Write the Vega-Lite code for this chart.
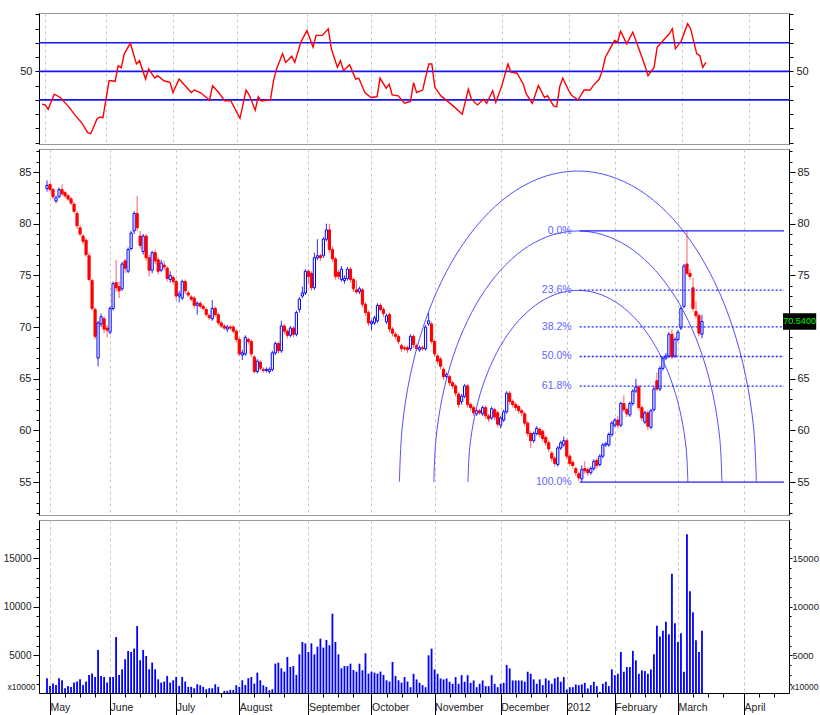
{
  "$schema": "https://vega.github.io/schema/vega-lite/v6.json",
  "padding": {"left": 2, "top": 12, "right": 0, "bottom": 0},
  "background": "white",
  "spacing": 5,
  "bounds": "flush",
  "config": {
    "font": "Liberation Sans, Arial, sans-serif",
    "axis": {"labelFont": "Liberation Sans, Arial, sans-serif", "titleFont": "Liberation Sans, Arial, sans-serif", "labelFontSize": 11, "labelColor": "#222", "domainColor": "#000", "tickColor": "#000", "labelPadding": 2},
    "view": {"stroke": "#9a9a9a"}
  },
  "datasets": {
    "candles": [
      {"i":-1,"o":83.4,"h":84.2,"l":83.1,"c":83.7},{"i":0,"o":83.8,"h":84.0,"l":83.1,"c":83.3},{"i":1,"o":83.3,"h":83.5,"l":82.4,"c":82.6},{"i":2,"o":82.2,"h":82.7,"l":82.0,"c":82.5},{"i":3,"o":82.6,"h":83.5,"l":82.5,"c":83.3},{"i":4,"o":83.3,"h":83.8,"l":82.7,"c":82.9},{"i":5,"o":83.0,"h":83.2,"l":82.5,"c":82.7},{"i":6,"o":82.7,"h":82.9,"l":82.2,"c":82.4},{"i":7,"o":82.4,"h":82.6,"l":81.8,"c":82.0},{"i":8,"o":81.9,"h":82.1,"l":81.0,"c":81.2},
      {"i":9,"o":81.0,"h":81.2,"l":79.5,"c":79.8},{"i":10,"o":79.6,"h":79.9,"l":78.8,"c":79.0},{"i":11,"o":78.8,"h":79.0,"l":78.0,"c":78.3},{"i":12,"o":78.4,"h":78.6,"l":76.8,"c":77.0},{"i":13,"o":76.9,"h":77.2,"l":74.4,"c":74.6},{"i":14,"o":74.5,"h":74.7,"l":71.6,"c":71.8},{"i":15,"o":71.7,"h":71.9,"l":68.8,"c":69.1},{"i":16,"o":67.0,"h":70.6,"l":66.2,"c":70.4},{"i":17,"o":70.3,"h":71.3,"l":70.0,"c":71.0},{"i":18,"o":70.8,"h":71.1,"l":69.4,"c":69.8},
      {"i":19,"o":69.9,"h":70.2,"l":69.0,"c":69.7},{"i":20,"o":69.5,"h":72.0,"l":69.3,"c":71.8},{"i":21,"o":71.8,"h":74.4,"l":71.6,"c":74.2},{"i":22,"o":74.3,"h":76.5,"l":73.4,"c":73.8},{"i":23,"o":73.9,"h":74.4,"l":72.8,"c":73.5},{"i":24,"o":73.7,"h":76.3,"l":73.5,"c":76.1},{"i":25,"o":76.4,"h":76.6,"l":75.2,"c":75.7},{"i":26,"o":75.4,"h":77.7,"l":75.2,"c":77.5},{"i":27,"o":77.6,"h":79.3,"l":77.4,"c":79.1},{"i":28,"o":79.3,"h":81.2,"l":79.0,"c":81.0},
      {"i":29,"o":81.0,"h":82.7,"l":79.3,"c":79.6},{"i":30,"o":78.8,"h":79.3,"l":77.6,"c":77.9},{"i":31,"o":77.3,"h":79.0,"l":77.0,"c":78.8},{"i":32,"o":78.8,"h":79.0,"l":76.4,"c":76.7},{"i":33,"o":76.7,"h":77.0,"l":74.9,"c":75.5},{"i":34,"o":75.5,"h":77.4,"l":75.2,"c":77.2},{"i":35,"o":77.2,"h":77.5,"l":76.1,"c":76.4},{"i":36,"o":76.5,"h":76.8,"l":75.1,"c":75.4},{"i":37,"o":75.5,"h":76.5,"l":75.3,"c":76.2},{"i":38,"o":76.0,"h":76.4,"l":75.5,"c":75.8},
      {"i":39,"o":75.7,"h":75.9,"l":74.4,"c":74.7},{"i":40,"o":74.6,"h":75.4,"l":74.3,"c":75.0},{"i":41,"o":74.8,"h":75.0,"l":74.1,"c":74.4},{"i":42,"o":74.4,"h":74.6,"l":72.6,"c":73.0},{"i":43,"o":73.0,"h":73.5,"l":72.4,"c":73.2},{"i":44,"o":72.8,"h":74.6,"l":72.6,"c":74.4},{"i":45,"o":74.4,"h":74.6,"l":73.2,"c":73.5},{"i":46,"o":73.3,"h":73.5,"l":72.9,"c":73.1},{"i":47,"o":72.9,"h":73.1,"l":72.5,"c":72.7},{"i":48,"o":72.8,"h":73.0,"l":71.8,"c":72.1},
      {"i":49,"o":72.1,"h":72.5,"l":71.2,"c":72.3},{"i":50,"o":72.3,"h":72.5,"l":71.8,"c":72.0},{"i":51,"o":72.0,"h":72.2,"l":71.6,"c":71.8},{"i":52,"o":71.7,"h":71.9,"l":71.0,"c":71.2},{"i":53,"o":71.1,"h":71.3,"l":70.7,"c":70.9},{"i":54,"o":70.8,"h":72.6,"l":70.6,"c":71.8},{"i":55,"o":71.8,"h":72.0,"l":71.0,"c":71.2},{"i":56,"o":71.2,"h":71.4,"l":70.2,"c":70.4},{"i":57,"o":70.4,"h":70.6,"l":69.9,"c":70.1},{"i":58,"o":70.1,"h":70.3,"l":69.7,"c":69.9},
      {"i":59,"o":69.8,"h":70.2,"l":69.5,"c":70.0},{"i":60,"o":70.0,"h":70.2,"l":69.7,"c":69.9},{"i":61,"o":70.0,"h":70.2,"l":69.4,"c":69.6},{"i":62,"o":69.6,"h":69.8,"l":68.5,"c":68.8},{"i":63,"o":68.8,"h":69.0,"l":67.2,"c":67.4},{"i":64,"o":67.3,"h":67.8,"l":66.8,"c":67.5},{"i":65,"o":67.4,"h":69.2,"l":67.2,"c":69.0},{"i":66,"o":68.8,"h":69.0,"l":68.3,"c":68.6},{"i":67,"o":68.6,"h":68.8,"l":67.1,"c":67.4},{"i":68,"o":67.1,"h":67.3,"l":65.5,"c":65.7},
      {"i":69,"o":65.7,"h":66.9,"l":65.5,"c":66.7},{"i":70,"o":66.6,"h":66.8,"l":65.8,"c":66.0},{"i":71,"o":65.9,"h":66.1,"l":65.6,"c":65.8},{"i":72,"o":65.8,"h":66.1,"l":65.6,"c":65.9},{"i":73,"o":65.7,"h":66.1,"l":65.5,"c":65.9},{"i":74,"o":65.9,"h":67.7,"l":65.7,"c":67.5},{"i":75,"o":67.5,"h":68.6,"l":67.3,"c":68.4},{"i":76,"o":68.4,"h":68.6,"l":67.4,"c":67.7},{"i":77,"o":67.7,"h":70.6,"l":67.5,"c":70.1},{"i":78,"o":70.1,"h":70.3,"l":69.3,"c":69.6},
      {"i":79,"o":69.6,"h":69.8,"l":68.9,"c":69.2},{"i":80,"o":69.2,"h":70.1,"l":69.0,"c":69.9},{"i":81,"o":69.9,"h":70.1,"l":69.0,"c":69.3},{"i":82,"o":69.3,"h":71.6,"l":69.1,"c":71.4},{"i":83,"o":71.7,"h":72.9,"l":71.4,"c":72.7},{"i":84,"o":73.0,"h":73.9,"l":72.8,"c":73.3},{"i":85,"o":73.3,"h":75.6,"l":73.1,"c":75.4},{"i":86,"o":75.4,"h":75.6,"l":74.2,"c":74.9},{"i":87,"o":75.2,"h":75.4,"l":73.5,"c":73.8},{"i":88,"o":73.8,"h":77.2,"l":73.6,"c":76.7},
      {"i":89,"o":76.7,"h":78.5,"l":76.5,"c":76.9},{"i":90,"o":76.9,"h":77.1,"l":76.4,"c":76.7},{"i":91,"o":76.9,"h":78.7,"l":76.7,"c":78.5},{"i":92,"o":78.5,"h":80.0,"l":78.3,"c":79.4},{"i":93,"o":79.4,"h":80.0,"l":77.2,"c":77.5},{"i":94,"o":77.5,"h":77.8,"l":76.3,"c":76.6},{"i":95,"o":76.6,"h":76.8,"l":74.6,"c":74.9},{"i":96,"o":75.3,"h":75.5,"l":74.6,"c":74.9},{"i":97,"o":74.6,"h":75.9,"l":74.4,"c":75.6},{"i":98,"o":74.5,"h":75.0,"l":74.2,"c":74.7},
      {"i":99,"o":74.7,"h":75.8,"l":74.5,"c":75.6},{"i":100,"o":75.6,"h":75.8,"l":74.3,"c":74.6},{"i":101,"o":74.6,"h":74.8,"l":73.4,"c":73.7},{"i":102,"o":73.6,"h":74.5,"l":73.2,"c":73.4},{"i":103,"o":73.4,"h":73.9,"l":73.2,"c":73.7},{"i":104,"o":73.6,"h":73.8,"l":71.9,"c":72.2},{"i":105,"o":72.2,"h":72.4,"l":71.1,"c":71.4},{"i":106,"o":71.4,"h":71.6,"l":70.1,"c":70.4},{"i":107,"o":70.3,"h":70.7,"l":69.7,"c":70.5},{"i":108,"o":70.4,"h":71.1,"l":70.2,"c":70.9},
      {"i":109,"o":70.6,"h":72.3,"l":70.4,"c":72.1},{"i":110,"o":72.1,"h":72.3,"l":71.5,"c":71.7},{"i":111,"o":71.7,"h":71.9,"l":71.0,"c":71.3},{"i":112,"o":70.5,"h":71.3,"l":70.3,"c":71.1},{"i":113,"o":71.2,"h":71.4,"l":69.5,"c":69.8},{"i":114,"o":69.8,"h":70.0,"l":69.1,"c":69.4},{"i":115,"o":69.3,"h":69.5,"l":68.8,"c":69.1},{"i":116,"o":69.1,"h":69.3,"l":68.3,"c":68.6},{"i":117,"o":68.2,"h":68.4,"l":67.6,"c":67.9},{"i":118,"o":68.0,"h":68.2,"l":67.7,"c":67.9},
      {"i":119,"o":68.0,"h":68.2,"l":67.5,"c":67.8},{"i":120,"o":67.9,"h":69.3,"l":67.7,"c":69.1},{"i":121,"o":69.1,"h":69.3,"l":68.0,"c":68.3},{"i":122,"o":68.2,"h":68.4,"l":67.7,"c":67.9},{"i":123,"o":67.8,"h":68.2,"l":67.6,"c":68.0},{"i":124,"o":68.0,"h":68.2,"l":67.7,"c":67.9},{"i":125,"o":67.9,"h":70.2,"l":67.7,"c":70.0},{"i":126,"o":70.3,"h":71.4,"l":70.1,"c":70.6},{"i":127,"o":70.3,"h":70.5,"l":68.4,"c":68.6},{"i":128,"o":68.6,"h":68.8,"l":67.1,"c":67.4},
      {"i":129,"o":67.2,"h":67.4,"l":66.4,"c":66.7},{"i":130,"o":66.9,"h":67.1,"l":65.9,"c":66.2},{"i":131,"o":65.9,"h":66.1,"l":64.9,"c":65.2},{"i":132,"o":65.2,"h":65.6,"l":65.0,"c":65.4},{"i":133,"o":65.2,"h":65.4,"l":64.3,"c":64.6},{"i":134,"o":64.6,"h":64.8,"l":64.0,"c":64.3},{"i":135,"o":64.3,"h":64.5,"l":63.3,"c":63.6},{"i":136,"o":63.5,"h":63.7,"l":62.2,"c":62.5},{"i":137,"o":62.8,"h":63.5,"l":62.5,"c":63.3},{"i":138,"o":63.3,"h":64.5,"l":63.1,"c":64.3},
      {"i":139,"o":64.3,"h":64.5,"l":62.2,"c":62.5},{"i":140,"o":62.5,"h":62.7,"l":61.9,"c":62.2},{"i":141,"o":62.2,"h":62.4,"l":61.4,"c":61.7},{"i":142,"o":61.6,"h":62.1,"l":61.4,"c":61.9},{"i":143,"o":61.9,"h":62.1,"l":61.5,"c":61.7},{"i":144,"o":61.6,"h":62.4,"l":61.4,"c":62.2},{"i":145,"o":62.2,"h":62.4,"l":61.1,"c":61.4},{"i":146,"o":61.4,"h":61.6,"l":60.8,"c":61.1},{"i":147,"o":61.2,"h":62.3,"l":61.0,"c":62.1},{"i":148,"o":62.0,"h":62.2,"l":61.0,"c":61.3},
      {"i":149,"o":61.7,"h":61.9,"l":60.3,"c":60.6},{"i":150,"o":60.5,"h":61.4,"l":60.2,"c":61.2},{"i":151,"o":61.0,"h":62.0,"l":60.8,"c":61.8},{"i":152,"o":61.8,"h":63.8,"l":61.6,"c":63.6},{"i":153,"o":63.6,"h":63.8,"l":62.5,"c":62.8},{"i":154,"o":62.8,"h":63.0,"l":62.2,"c":62.5},{"i":155,"o":62.5,"h":62.7,"l":61.9,"c":62.2},{"i":156,"o":62.3,"h":62.5,"l":61.6,"c":61.9},{"i":157,"o":61.9,"h":62.1,"l":61.4,"c":61.7},{"i":158,"o":61.6,"h":61.8,"l":60.4,"c":60.7},
      {"i":159,"o":60.7,"h":60.9,"l":59.4,"c":59.7},{"i":160,"o":59.7,"h":59.9,"l":58.3,"c":59.0},{"i":161,"o":59.0,"h":59.9,"l":58.8,"c":59.7},{"i":162,"o":59.7,"h":60.4,"l":59.5,"c":60.2},{"i":163,"o":60.1,"h":60.3,"l":59.3,"c":59.6},{"i":164,"o":59.9,"h":60.1,"l":58.9,"c":59.2},{"i":165,"o":59.3,"h":59.5,"l":58.5,"c":58.8},{"i":166,"o":58.8,"h":59.0,"l":57.9,"c":58.2},{"i":167,"o":57.8,"h":58.0,"l":57.0,"c":57.3},{"i":168,"o":57.3,"h":57.5,"l":56.5,"c":56.8},
      {"i":169,"o":56.7,"h":58.5,"l":56.5,"c":58.3},{"i":170,"o":58.3,"h":59.0,"l":58.1,"c":58.8},{"i":171,"o":58.6,"h":59.4,"l":58.4,"c":59.0},{"i":172,"o":59.0,"h":59.2,"l":57.2,"c":57.5},{"i":173,"o":57.5,"h":57.7,"l":56.5,"c":56.8},{"i":174,"o":56.9,"h":57.1,"l":56.3,"c":56.6},{"i":175,"o":56.3,"h":56.5,"l":55.6,"c":55.9},{"i":176,"o":55.8,"h":56.0,"l":55.1,"c":55.4},{"i":177,"o":55.3,"h":56.6,"l":55.0,"c":56.2},{"i":178,"o":56.3,"h":57.0,"l":55.8,"c":56.1},
      {"i":179,"o":56.2,"h":56.4,"l":55.6,"c":55.9},{"i":180,"o":55.9,"h":56.5,"l":55.7,"c":56.3},{"i":181,"o":56.3,"h":57.2,"l":56.1,"c":57.0},{"i":182,"o":57.1,"h":57.3,"l":56.3,"c":56.6},{"i":183,"o":56.7,"h":57.7,"l":56.5,"c":57.5},{"i":184,"o":57.5,"h":58.8,"l":57.3,"c":58.6},{"i":185,"o":58.6,"h":58.9,"l":58.4,"c":58.7},{"i":186,"o":58.6,"h":59.8,"l":58.4,"c":59.6},{"i":187,"o":59.6,"h":60.9,"l":59.4,"c":60.7},{"i":188,"o":60.5,"h":61.2,"l":60.3,"c":61.0},
      {"i":189,"o":61.0,"h":61.4,"l":60.2,"c":60.5},{"i":190,"o":60.5,"h":62.8,"l":60.3,"c":62.6},{"i":191,"o":62.6,"h":63.4,"l":61.8,"c":62.0},{"i":192,"o":62.0,"h":62.2,"l":61.3,"c":61.6},{"i":193,"o":61.5,"h":62.8,"l":61.3,"c":62.6},{"i":194,"o":62.6,"h":64.0,"l":62.4,"c":63.8},{"i":195,"o":63.8,"h":65.0,"l":63.6,"c":64.2},{"i":196,"o":64.2,"h":64.4,"l":61.9,"c":62.2},{"i":197,"o":62.2,"h":62.4,"l":60.9,"c":61.2},{"i":198,"o":60.8,"h":61.9,"l":60.6,"c":61.7},
      {"i":199,"o":61.7,"h":61.9,"l":60.0,"c":60.4},{"i":200,"o":60.3,"h":62.1,"l":60.1,"c":61.9},{"i":201,"o":62.0,"h":64.3,"l":61.8,"c":64.0},{"i":202,"o":64.8,"h":65.6,"l":63.8,"c":64.0},{"i":203,"o":64.0,"h":66.2,"l":63.8,"c":66.0},{"i":204,"o":66.0,"h":67.2,"l":65.8,"c":67.0},{"i":205,"o":67.0,"h":67.5,"l":66.8,"c":67.2},{"i":206,"o":67.2,"h":69.5,"l":67.0,"c":69.3},{"i":207,"o":69.3,"h":69.8,"l":66.9,"c":67.1},{"i":208,"o":67.2,"h":69.0,"l":67.0,"c":68.8},
      {"i":209,"o":68.8,"h":69.7,"l":68.6,"c":69.5},{"i":210,"o":69.9,"h":72.0,"l":69.7,"c":71.8},{"i":211,"o":72.0,"h":76.1,"l":71.8,"c":75.9},{"i":212,"o":76.1,"h":79.3,"l":75.0,"c":75.2},{"i":213,"o":75.2,"h":75.6,"l":74.6,"c":74.9},{"i":214,"o":73.8,"h":74.8,"l":71.5,"c":71.8},{"i":215,"o":71.5,"h":72.5,"l":70.8,"c":71.1},{"i":216,"o":71.1,"h":71.3,"l":69.1,"c":69.4},{"i":217,"o":69.3,"h":71.2,"l":68.9,"c":70.54}
    ],
    "vol": [
      {"i":-1,"v":2640},{"i":0,"v":1850},{"i":1,"v":2090},{"i":2,"v":1950},{"i":3,"v":2640},{"i":4,"v":2430},{"i":5,"v":1610},{"i":6,"v":1850},{"i":7,"v":1750},{"i":8,"v":2190},{"i":9,"v":2300},{"i":10,"v":2530},{"i":11,"v":1950},{"i":12,"v":2300},{"i":13,"v":2980},{"i":14,"v":3120},{"i":15,"v":2770},{"i":16,"v":5550},{"i":17,"v":2880},{"i":18,"v":2770},{"i":19,"v":2190},{"i":20,"v":2770},{"i":21,"v":2770},{"i":22,"v":6880},{"i":23,"v":2980},{"i":24,"v":3560},{"i":25,"v":4590},{"i":26,"v":5450},{"i":27,"v":5340},{"i":28,"v":5690},{"i":29,"v":8010},{"i":30,"v":4490},{"i":31,"v":5550},{"i":32,"v":4930},{"i":33,"v":3560},{"i":34,"v":4250},{"i":35,"v":3560},{"i":36,"v":2530},{"i":37,"v":2190},{"i":38,"v":2300},{"i":39,"v":2880},{"i":40,"v":2190},{"i":41,"v":2430},{"i":42,"v":2770},{"i":43,"v":1850},{"i":44,"v":2770},{"i":45,"v":2300},{"i":46,"v":1750},{"i":47,"v":1750},{"i":48,"v":1610},{"i":49,"v":2020},{"i":50,"v":1920},{"i":51,"v":1750},{"i":52,"v":1510},{"i":53,"v":1610},{"i":54,"v":1610},{"i":55,"v":2020},{"i":56,"v":1750},{"i":58,"v":1340},{"i":59,"v":1340},{"i":60,"v":1440},{"i":61,"v":1440},{"i":62,"v":1920},{"i":63,"v":1750},{"i":64,"v":2430},{"i":65,"v":1950},{"i":66,"v":2640},{"i":67,"v":2770},{"i":68,"v":2090},{"i":69,"v":3220},{"i":70,"v":2430},{"i":71,"v":1920},{"i":72,"v":1750},{"i":73,"v":1400},{"i":74,"v":1510},{"i":75,"v":4140},{"i":76,"v":4250},{"i":77,"v":3660},{"i":78,"v":3320},{"i":79,"v":4830},{"i":80,"v":3800},{"i":81,"v":3900},{"i":82,"v":2980},{"i":83,"v":5100},{"i":84,"v":6370},{"i":85,"v":6230},{"i":86,"v":5340},{"i":87,"v":6230},{"i":88,"v":5100},{"i":89,"v":5890},{"i":90,"v":6710},{"i":91,"v":5790},{"i":92,"v":6580},{"i":93,"v":6030},{"i":94,"v":9280},{"i":95,"v":6370},{"i":96,"v":5100},{"i":97,"v":3660},{"i":98,"v":3900},{"i":99,"v":3900},{"i":100,"v":4140},{"i":101,"v":3490},{"i":102,"v":3320},{"i":103,"v":4140},{"i":104,"v":3460},{"i":105,"v":5210},{"i":106,"v":3120},{"i":107,"v":3320},{"i":108,"v":3220},{"i":109,"v":3120},{"i":110,"v":3320},{"i":111,"v":2980},{"i":112,"v":2430},{"i":113,"v":2300},{"i":114,"v":4320},{"i":115,"v":2880},{"i":116,"v":2430},{"i":117,"v":2190},{"i":118,"v":2770},{"i":119,"v":2300},{"i":120,"v":1720},{"i":121,"v":3100},{"i":122,"v":2520},{"i":123,"v":2170},{"i":124,"v":1930},{"i":125,"v":1720},{"i":126,"v":5000},{"i":127,"v":5690},{"i":128,"v":3550},{"i":129,"v":3100},{"i":130,"v":2620},{"i":131,"v":2520},{"i":132,"v":2620},{"i":133,"v":2280},{"i":134,"v":2070},{"i":135,"v":2760},{"i":136,"v":2070},{"i":137,"v":2960},{"i":138,"v":2280},{"i":139,"v":2960},{"i":140,"v":2170},{"i":141,"v":2410},{"i":142,"v":1720},{"i":143,"v":2070},{"i":144,"v":2410},{"i":145,"v":1830},{"i":146,"v":1830},{"i":147,"v":2960},{"i":148,"v":2070},{"i":149,"v":1720},{"i":150,"v":2070},{"i":151,"v":2170},{"i":152,"v":4000},{"i":153,"v":3650},{"i":154,"v":2410},{"i":155,"v":2410},{"i":156,"v":2410},{"i":157,"v":2410},{"i":158,"v":2280},{"i":159,"v":3310},{"i":160,"v":3100},{"i":161,"v":2520},{"i":162,"v":2070},{"i":163,"v":2520},{"i":164,"v":1930},{"i":165,"v":2620},{"i":166,"v":2410},{"i":167,"v":2070},{"i":168,"v":2620},{"i":169,"v":2760},{"i":170,"v":2280},{"i":171,"v":2760},{"i":172,"v":1480},{"i":173,"v":1720},{"i":174,"v":1720},{"i":175,"v":2000},{"i":176,"v":1930},{"i":177,"v":2000},{"i":178,"v":2170},{"i":179,"v":1590},{"i":180,"v":1930},{"i":181,"v":2280},{"i":182,"v":1830},{"i":183,"v":1240},{"i":184,"v":2070},{"i":185,"v":2280},{"i":186,"v":1830},{"i":187,"v":3550},{"i":188,"v":2960},{"i":189,"v":3100},{"i":190,"v":5350},{"i":191,"v":3310},{"i":192,"v":3790},{"i":193,"v":3790},{"i":194,"v":5450},{"i":195,"v":4480},{"i":196,"v":3100},{"i":197,"v":3450},{"i":198,"v":3380},{"i":199,"v":3100},{"i":200,"v":3550},{"i":201,"v":5100},{"i":202,"v":8040},{"i":203,"v":6930},{"i":204,"v":7520},{"i":205,"v":8450},{"i":206,"v":7170},{"i":207,"v":13380},{"i":208,"v":8310},{"i":209,"v":6380},{"i":210,"v":7280},{"i":211,"v":3310},{"i":212,"v":17450},{"i":213,"v":11590},{"i":214,"v":9420},{"i":215,"v":6550},{"i":216,"v":5350},{"i":217,"v":7520}
    ],
    "rsi": [
      {"i":-1,"r":27},{"i":0,"r":26.5},{"i":1,"r":23.5},{"i":3,"r":34},{"i":5,"r":31.7},{"i":6,"r":29.3},{"i":8,"r":24.6},{"i":10,"r":18.8},{"i":12,"r":14},{"i":14,"r":7},{"i":15,"r":6.3},{"i":17,"r":16.4},{"i":18,"r":18},{"i":19,"r":17.6},{"i":21,"r":43.4},{"i":22,"r":43.4},{"i":23,"r":43},{"i":24,"r":54},{"i":25,"r":52.5},{"i":26,"r":62.3},{"i":28,"r":69.8},{"i":30,"r":55.2},{"i":31,"r":57.5},{"i":33,"r":44.6},{"i":34,"r":51.7},{"i":36,"r":45.3},{"i":37,"r":47},{"i":39,"r":43.4},{"i":41,"r":42.3},{"i":42,"r":35.2},{"i":44,"r":44.6},{"i":46,"r":39.9},{"i":48,"r":35.2},{"i":49,"r":36.9},{"i":51,"r":35.2},{"i":54,"r":29.8},{"i":55,"r":39.9},{"i":57,"r":35.2},{"i":59,"r":29.3},{"i":61,"r":29.3},{"i":64,"r":17.1},{"i":66,"r":36.9},{"i":67,"r":33.6},{"i":69,"r":22.8},{"i":70,"r":32.2},{"i":71,"r":29.3},{"i":74,"r":30},{"i":75,"r":43.4},{"i":76,"r":51.7},{"i":78,"r":62.3},{"i":79,"r":56.3},{"i":81,"r":60.6},{"i":82,"r":56.3},{"i":84,"r":70.5},{"i":86,"r":78.7},{"i":88,"r":66.9},{"i":89,"r":75.2},{"i":91,"r":75.2},{"i":93,"r":79.9},{"i":94,"r":65.8},{"i":96,"r":52.8},{"i":97,"r":57.5},{"i":98,"r":50.5},{"i":100,"r":54.7},{"i":102,"r":44.6},{"i":103,"r":45.3},{"i":105,"r":35.2},{"i":107,"r":31.7},{"i":109,"r":32.2},{"i":110,"r":45.3},{"i":112,"r":38.2},{"i":113,"r":41},{"i":114,"r":33.5},{"i":116,"r":32.8},{"i":118,"r":27.7},{"i":120,"r":28.9},{"i":121,"r":42.1},{"i":122,"r":35.2},{"i":124,"r":36.9},{"i":126,"r":55.2},{"i":127,"r":55.2},{"i":128,"r":38.8},{"i":130,"r":32.8},{"i":132,"r":29.3},{"i":134,"r":25.8},{"i":137,"r":20},{"i":139,"r":37.6},{"i":140,"r":30.5},{"i":142,"r":26.5},{"i":144,"r":30.5},{"i":145,"r":27.5},{"i":147,"r":36.4},{"i":148,"r":28.2},{"i":150,"r":40},{"i":152,"r":55.2},{"i":153,"r":49.4},{"i":155,"r":48.7},{"i":157,"r":41.2},{"i":158,"r":34.2},{"i":160,"r":27.5},{"i":162,"r":40},{"i":164,"r":31.7},{"i":165,"r":33},{"i":167,"r":25.8},{"i":168,"r":25.1},{"i":169,"r":39.2},{"i":170,"r":45.3},{"i":172,"r":36.4},{"i":173,"r":33},{"i":175,"r":29.9},{"i":177,"r":36.9},{"i":179,"r":36.9},{"i":180,"r":40},{"i":182,"r":44.6},{"i":183,"r":50.5},{"i":184,"r":59.9},{"i":187,"r":71.6},{"i":188,"r":70.5},{"i":189,"r":78.2},{"i":191,"r":69.3},{"i":193,"r":77.5},{"i":195,"r":65.8},{"i":197,"r":54},{"i":198,"r":47},{"i":200,"r":52.8},{"i":201,"r":66.9},{"i":203,"r":71.6},{"i":205,"r":76.3},{"i":206,"r":79.9},{"i":207,"r":65.8},{"i":209,"r":71.6},{"i":211,"r":83.4},{"i":212,"r":79.9},{"i":214,"r":62.3},{"i":215,"r":61.1},{"i":216,"r":52.8},{"i":217,"r":56.3}
    ],
    "rsilv": [{"lvl":30},{"lvl":50},{"lvl":70}],
    "fib": [{"lvl":"0.0%","p":79.3},{"lvl":"23.6%","p":73.57},{"lvl":"38.2%","p":70.02},{"lvl":"50.0%","p":67.15},{"lvl":"61.8%","p":64.28},{"lvl":"100.0%","p":55.0}],
    "arcs": [
      {"arc":"outer","k":0,"x":235.1,"y":55},{"arc":"outer","k":1,"x":234.2,"y":60.23},{"arc":"outer","k":2,"x":231.52,"y":65.29},{"arc":"outer","k":3,"x":227.14,"y":70.05},{"arc":"outer","k":4,"x":221.2,"y":74.35},{"arc":"outer","k":5,"x":213.88,"y":78.06},{"arc":"outer","k":6,"x":205.4,"y":81.07},{"arc":"outer","k":7,"x":196.01,"y":83.29},{"arc":"outer","k":8,"x":186.01,"y":84.64},{"arc":"outer","k":9,"x":175.7,"y":85.1},{"arc":"outer","k":10,"x":165.39,"y":84.64},{"arc":"outer","k":11,"x":155.39,"y":83.29},{"arc":"outer","k":12,"x":146.0,"y":81.07},{"arc":"outer","k":13,"x":137.52,"y":78.06},{"arc":"outer","k":14,"x":130.2,"y":74.35},{"arc":"outer","k":15,"x":124.26,"y":70.05},{"arc":"outer","k":16,"x":119.88,"y":65.29},{"arc":"outer","k":17,"x":117.2,"y":60.23},{"arc":"outer","k":18,"x":116.3,"y":55},
      {"arc":"mid","k":0,"x":223.65,"y":55},{"arc":"mid","k":1,"x":222.92,"y":59.22},{"arc":"mid","k":2,"x":220.76,"y":63.31},{"arc":"mid","k":3,"x":217.23,"y":67.15},{"arc":"mid","k":4,"x":212.43,"y":70.62},{"arc":"mid","k":5,"x":206.52,"y":73.61},{"arc":"mid","k":6,"x":199.68,"y":76.04},{"arc":"mid","k":7,"x":192.1,"y":77.84},{"arc":"mid","k":8,"x":184.02,"y":78.93},{"arc":"mid","k":9,"x":175.7,"y":79.3},{"arc":"mid","k":10,"x":167.38,"y":78.93},{"arc":"mid","k":11,"x":159.3,"y":77.84},{"arc":"mid","k":12,"x":151.72,"y":76.04},{"arc":"mid","k":13,"x":144.88,"y":73.61},{"arc":"mid","k":14,"x":138.97,"y":70.62},{"arc":"mid","k":15,"x":134.17,"y":67.15},{"arc":"mid","k":16,"x":130.64,"y":63.31},{"arc":"mid","k":17,"x":128.48,"y":59.22},{"arc":"mid","k":18,"x":127.75,"y":55},
      {"arc":"inner","k":0,"x":212.3,"y":55},{"arc":"inner","k":1,"x":211.74,"y":58.22},{"arc":"inner","k":2,"x":210.09,"y":61.34},{"arc":"inner","k":3,"x":207.4,"y":64.28},{"arc":"inner","k":4,"x":203.74,"y":66.92},{"arc":"inner","k":5,"x":199.23,"y":69.21},{"arc":"inner","k":6,"x":194.0,"y":71.06},{"arc":"inner","k":7,"x":188.22,"y":72.43},{"arc":"inner","k":8,"x":182.05,"y":73.27},{"arc":"inner","k":9,"x":175.7,"y":73.55},{"arc":"inner","k":10,"x":169.35,"y":73.27},{"arc":"inner","k":11,"x":163.18,"y":72.43},{"arc":"inner","k":12,"x":157.4,"y":71.06},{"arc":"inner","k":13,"x":152.17,"y":69.21},{"arc":"inner","k":14,"x":147.66,"y":66.92},{"arc":"inner","k":15,"x":143.99,"y":64.28},{"arc":"inner","k":16,"x":141.31,"y":61.34},{"arc":"inner","k":17,"x":139.66,"y":58.22},{"arc":"inner","k":18,"x":139.1,"y":55}
    ]
  },
  "vconcat": [
    {
      "width": 750, "height": 131,
      "layer": [
        {
          "data": {"name": "rsilv"},
          "mark": {"type": "rule", "color": "#1414ff", "strokeWidth": 1.6},
          "encoding": {
            "y": {"field": "lvl", "type": "quantitative", "scale": {"domain": [-0.9, 90.9], "nice": false, "zero": false},
              "axis": {"orient": "left", "values": [0,10,20,30,40,50,60,70,80,90], "tickCount": 100, "format": "d", "labelExpr": "datum.value==50?'50':''", "tickSize": 4, "title": null, "grid": false, "labelPadding": 3}}
          }
        },
        {
          "data": {"name": "rsi"},
          "mark": {"type": "line", "color": "#ff0000", "strokeWidth": 1.4},
          "encoding": {
            "x": {"field": "i", "type": "quantitative", "scale": {"domain": [-2, 244.3], "nice": false, "zero": false},
              "axis": {"values": [0,20,42,63,86,107,128,150,172,188,209,231], "tickCount": 100, "grid": true, "gridDash": [3,3], "gridColor": "#c8c8c8", "labels": false, "ticks": false, "domain": false, "title": null}},
            "y": {"field": "r", "type": "quantitative", "scale": {"domain": [-0.9, 90.9], "nice": false, "zero": false},
              "axis": {"orient": "right", "values": [0,10,20,30,40,50,60,70,80,90], "tickCount": 100, "format": "d", "labelExpr": "datum.value==50?'50':''", "tickSize": 4, "title": null, "grid": false, "labelPadding": 3}}
          }
        }
      ],
      "resolve": {"axis": {"y": "independent"}}
    },
    {
      "width": 750, "height": 366,
      "layer": [
        {
          "data": {"name": "candles"},
          "mark": {"type": "rule", "strokeWidth": 1},
          "encoding": {
            "x": {"field": "i", "type": "quantitative", "scale": {"domain": [-2, 244.3], "nice": false, "zero": false},
              "axis": {"values": [0,20,42,63,86,107,128,150,172,188,209,231], "tickCount": 100, "grid": true, "gridDash": [3,3], "gridColor": "#c8c8c8", "labels": false, "ticks": false, "domain": false, "title": null}},
            "y": {"field": "l", "type": "quantitative", "scale": {"domain": [51.81, 87.23], "nice": false, "zero": false},
              "axis": {"orient": "left", "values": [52,53,54,55,56,57,58,59,60,61,62,63,64,65,66,67,68,69,70,71,72,73,74,75,76,77,78,79,80,81,82,83,84,85,86,87], "tickCount": 100, "format": "d", "labelExpr": "datum.value%5==0?datum.label:''", "tickSize": {"condition": {"test": "datum.value%5==0", "value": 6}, "value": 3}, "title": null, "grid": false}},
            "y2": {"field": "h"},
            "color": {"condition": {"test": "datum.c>=datum.o", "value": "#3030ff"}, "value": "#ff6060"}
          }
        },
        {
          "data": {"name": "candles"},
          "mark": {"type": "bar", "width": 2.2, "strokeWidth": 1},
          "encoding": {
            "x": {"field": "i", "type": "quantitative", "scale": {"domain": [-2, 244.3], "nice": false, "zero": false}},
            "y": {"field": "o", "type": "quantitative", "scale": {"domain": [51.81, 87.23], "nice": false, "zero": false},
              "axis": {"orient": "right", "values": [52,53,54,55,56,57,58,59,60,61,62,63,64,65,66,67,68,69,70,71,72,73,74,75,76,77,78,79,80,81,82,83,84,85,86,87], "tickCount": 100, "format": "d", "labelExpr": "datum.value%5==0&&datum.value!=70?datum.label:''", "tickSize": {"condition": {"test": "datum.value%5==0", "value": 6}, "value": 3}, "title": null, "grid": false}},
            "y2": {"field": "c"},
            "fill": {"condition": {"test": "datum.c>=datum.o", "value": "#ffffff"}, "value": "#ff0000"},
            "stroke": {"condition": {"test": "datum.c>=datum.o", "value": "#0000ff"}, "value": "#ff0000"}
          }
        },
        {
          "data": {"name": "arcs"},
          "mark": {"type": "line", "color": "#5050ff", "strokeWidth": 1, "interpolate": "catmull-rom"},
          "encoding": {
            "x": {"field": "x", "type": "quantitative", "scale": {"domain": [-2, 244.3], "nice": false, "zero": false}},
            "y": {"field": "y", "type": "quantitative", "scale": {"domain": [51.81, 87.23], "nice": false, "zero": false}, "axis": null},
            "detail": {"field": "arc"},
            "order": {"field": "k"}
          }
        },
        {
          "data": {"name": "fib"},
          "mark": {"type": "rule", "color": "#2020ff", "strokeWidth": 1.3},
          "encoding": {
            "x": {"datum": 176.3, "type": "quantitative", "scale": {"domain": [-2, 244.3], "nice": false, "zero": false}},
            "x2": {"datum": 244.3},
            "y": {"field": "p", "type": "quantitative", "scale": {"domain": [51.81, 87.23], "nice": false, "zero": false}, "axis": null},
            "strokeDash": {"condition": {"test": "datum.lvl=='0.0%'||datum.lvl=='100.0%'", "value": [1, 0]}, "value": [2, 2]}
          }
        },
        {
          "data": {"name": "fib"},
          "mark": {"type": "text", "align": "right", "baseline": "middle", "color": "#6464ff", "fontSize": 10.5, "font": "Liberation Sans, Arial, sans-serif"},
          "encoding": {
            "x": {"datum": 173.6, "type": "quantitative", "scale": {"domain": [-2, 244.3], "nice": false, "zero": false}},
            "y": {"field": "p", "type": "quantitative", "scale": {"domain": [51.81, 87.23], "nice": false, "zero": false}, "axis": null},
            "text": {"field": "lvl"}
          }
        },
        {
          "data": {"name": "candles"},
          "transform": [{"filter": "datum.i==217"}],
          "mark": {"type": "point", "shape": "M-1,-0.5H1V0.5H-1Z", "filled": true, "color": "#000000", "opacity": 1, "size": 1100},
          "encoding": {
            "x": {"datum": 249.5, "type": "quantitative", "scale": {"domain": [-2, 244.3], "nice": false, "zero": false}},
            "y": {"field": "c", "type": "quantitative", "scale": {"domain": [51.81, 87.23], "nice": false, "zero": false}, "axis": null}
          }
        },
        {
          "data": {"name": "candles"},
          "transform": [{"filter": "datum.i==217"}],
          "mark": {"type": "text", "align": "center", "baseline": "middle", "color": "#00ff00", "fontSize": 9, "font": "Liberation Sans, Arial, sans-serif"},
          "encoding": {
            "x": {"datum": 249.5, "type": "quantitative", "scale": {"domain": [-2, 244.3], "nice": false, "zero": false}},
            "y": {"field": "c", "type": "quantitative", "scale": {"domain": [51.81, 87.23], "nice": false, "zero": false}, "axis": null},
            "text": {"field": "c", "format": ".4f"}
          }
        }
      ],
      "resolve": {"axis": {"y": "independent"}}
    },
    {
      "width": 750, "height": 173,
      "layer": [
        {
          "data": {"name": "vol"},
          "mark": {"type": "bar", "width": 1.8, "color": "#0000ff", "clip": true},
          "encoding": {
            "x": {"field": "i", "type": "quantitative", "scale": {"domain": [-2, 244.3], "nice": false, "zero": false},
              "axis": {"values": [0,5,10,15,20,25,30,35,42,47,52,57,63,68,73,78,86,91,96,101,107,112,117,122,128,133,138,143,150,155,160,165,172,177,182,188,193,198,203,209,214,219,224,231,236,241], "tickCount": 100,
                "labelExpr": "datum.value==0?'May':datum.value==20?'June':datum.value==42?'July':datum.value==63?'August':datum.value==86?'September':datum.value==107?'October':datum.value==128?'November':datum.value==150?'December':datum.value==172?'2012':datum.value==188?'February':datum.value==209?'March':datum.value==231?'April':''",
                "tickSize": {"condition": {"test": "indexof([0,20,42,63,86,107,128,150,172,188,209,231], datum.value)>=0", "value": 23}, "value": 4},
                "grid": true, "gridDash": [3,3], "gridColor": "#c8c8c8",
                "gridOpacity": {"condition": {"test": "indexof([0,20,42,63,86,107,128,150,172,188,209,231], datum.value)>=0", "value": 1}, "value": 0},
                "labelAlign": "left", "labelDx": 2, "labelPadding": -14, "labelFontSize": 10.5, "labelOverlap": false, "labelFlush": false, "labelBound": false, "title": null}},
            "y": {"field": "v", "type": "quantitative", "scale": {"domain": [1121, 18920], "nice": false, "zero": false},
              "axis": {"orient": "left", "format": "d", "values": [2000,3000,4000,5000,6000,7000,8000,9000,10000,11000,12000,13000,14000,15000,16000,17000,18000], "tickCount": 100, "labelExpr": "datum.value%5000==0?datum.label:''", "labelFontSize": 10, "tickSize": {"condition": {"test": "datum.value%5000==0", "value": 6}, "value": 3}, "grid": false,
                "title": "x10000", "titleAngle": 0, "titleAlign": "left", "titleBaseline": "middle", "titleX": -32, "titleY": 166, "titleFontSize": 8.5, "titleFontWeight": "normal", "titleColor": "#222"}}
          }
        },
        {
          "data": {"name": "vol"},
          "mark": {"type": "bar", "width": 1.8, "opacity": 0, "clip": true},
          "encoding": {
            "x": {"field": "i", "type": "quantitative", "scale": {"domain": [-2, 244.3], "nice": false, "zero": false}},
            "y": {"field": "v", "type": "quantitative", "scale": {"domain": [1121, 18920], "nice": false, "zero": false},
              "axis": {"orient": "right", "format": "d", "values": [2000,3000,4000,5000,6000,7000,8000,9000,10000,11000,12000,13000,14000,15000,16000,17000,18000], "tickCount": 100, "labelExpr": "datum.value%5000==0?datum.label:''", "tickSize": {"condition": {"test": "datum.value%5000==0", "value": 3}, "value": 2}, "labelPadding": 0, "labelFontSize": 9.5, "grid": false,
                "title": "x10000", "titleAngle": 0, "titleAlign": "left", "titleBaseline": "middle", "titleX": 1, "titleY": 166, "titleFontSize": 8.5, "titleFontWeight": "normal", "titleColor": "#222"}}
          }
        }
      ],
      "resolve": {"axis": {"y": "independent"}}
    }
  ]
}
